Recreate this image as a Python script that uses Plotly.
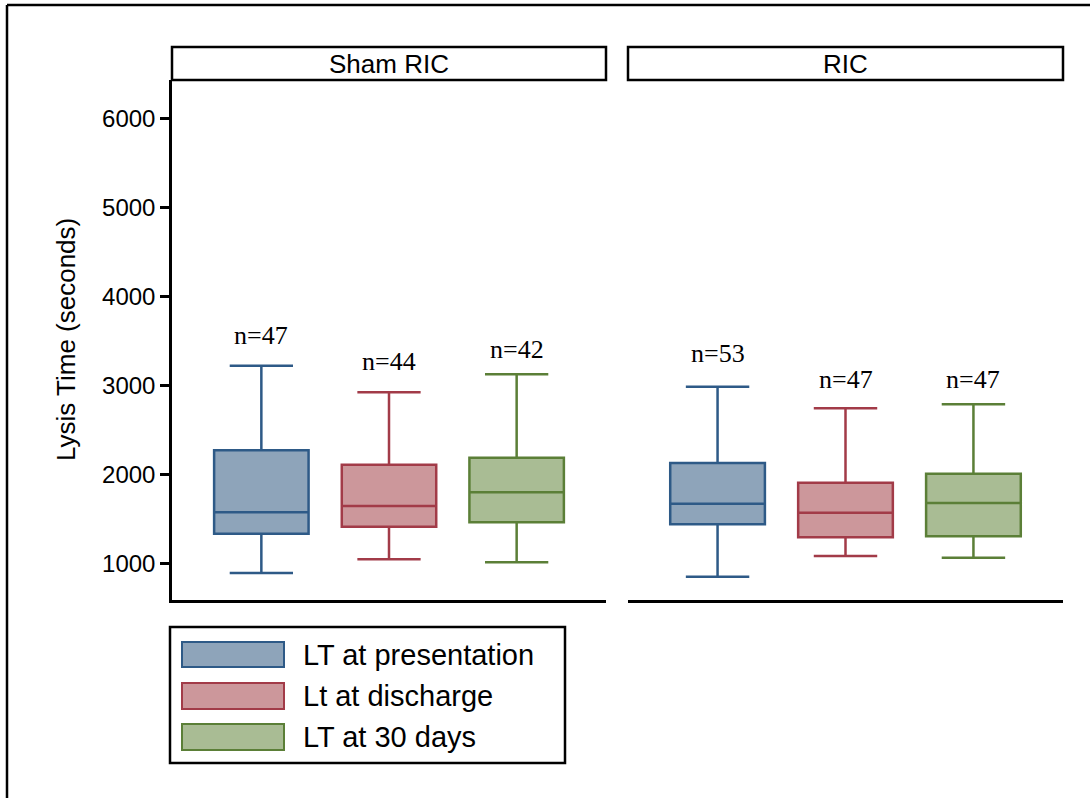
import plotly.graph_objects as go

# ---------------- data ----------------
timepoints = ["LT at presentation", "Lt at discharge", "LT at 30 days"]
panels = ["Sham RIC", "RIC"]

# per panel, per timepoint
sham_lower = [891, 1045, 1011]
sham_q1 = [1333, 1411, 1461]
sham_median = [1573, 1644, 1798]
sham_q3 = [2270, 2108, 2187]
sham_upper = [3220, 2921, 3124]
sham_n = [47, 44, 42]
sham_label_y = [3554, 3262, 3397]

ric_lower = [849, 1082, 1063]
ric_q1 = [1438, 1292, 1303]
ric_median = [1670, 1569, 1678]
ric_q3 = [2127, 1906, 2007]
ric_upper = [2984, 2742, 2787]
ric_n = [53, 47, 47]
ric_label_y = [3352, 3060, 3060]

y_ticks = [1000, 2000, 3000, 4000, 5000, 6000]

line_colors = ["#2e5a87", "#a23b48", "#5b7f37"]
fill_colors = ["#8ea4ba", "#cc979b", "#a9bc94"]

W, H = 1090, 798


def px(x):
    return x / W


def py(y):
    return 1 - y / H


fig = go.Figure()

panel_data = [
    (sham_lower, sham_q1, sham_median, sham_q3, sham_upper, sham_n, sham_label_y, "x", "y"),
    (ric_lower, ric_q1, ric_median, ric_q3, ric_upper, ric_n, ric_label_y, "x2", "y2"),
]

annotations = []
for lo, q1, med, q3, up, ns, ly, xa, ya in panel_data:
    for i, tp in enumerate(timepoints):
        fig.add_trace(go.Box(
            x=[tp], q1=[q1[i]], median=[med[i]], q3=[q3[i]],
            lowerfence=[lo[i]], upperfence=[up[i]],
            xaxis=xa, yaxis=ya, name=tp, showlegend=False,
            fillcolor=fill_colors[i],
            line=dict(color=line_colors[i], width=2.5),
            width=0.74, whiskerwidth=0.67, boxpoints=False,
            hoverinfo="skip",
        ))
        annotations.append(dict(
            x=tp, y=ly[i], xref=xa, yref=ya, text=f"n={ns[i]}",
            showarrow=False,
            font=dict(family="Liberation Serif, Times New Roman, serif", size=26, color="black"),
        ))

dom_y = [py(600), py(80)]
x_common = dict(
    type="category", categoryorder="array", categoryarray=timepoints,
    range=[-0.7, 2.7], showticklabels=False, ticks="",
    showline=True, linecolor="black", linewidth=2.5,
    showgrid=False, zeroline=False, fixedrange=True,
)
fig.update_layout(
    width=W, height=H,
    margin=dict(l=0, r=0, t=0, b=0),
    paper_bgcolor="white", plot_bgcolor="white",
    showlegend=False,
    font=dict(family="Liberation Sans, Arial, sans-serif", color="black"),
    xaxis=dict(domain=[px(172), px(606)], anchor="y", **x_common),
    xaxis2=dict(domain=[px(628), px(1063)], anchor="y2", **x_common),
    yaxis=dict(domain=dom_y, anchor="x", range=[588, 6430],
               tickvals=y_ticks, ticktext=[str(v) for v in y_ticks],
               ticks="outside", ticklen=9, tickwidth=2.5, tickcolor="black",
               tickfont=dict(size=24, family="Liberation Sans, Arial, sans-serif"),
               showline=True, linecolor="black", linewidth=2.5,
               showgrid=False, zeroline=False),
    yaxis2=dict(domain=dom_y, anchor="x2", range=[588, 6430], matches="y",
                showticklabels=False, ticks="", showline=False,
                showgrid=False, zeroline=False),
)

shapes = []
# outer frame (left + top)
shapes.append(dict(type="line", xref="paper", yref="paper", x0=px(7), x1=px(7), y0=py(5), y1=py(805),
                   line=dict(color="black", width=2.5)))
shapes.append(dict(type="line", xref="paper", yref="paper", x0=px(7), x1=px(1095), y0=py(5), y1=py(5),
                   line=dict(color="black", width=2.5)))
# strips
for (x0, x1), title in zip([(172, 606), (628, 1063)], panels):
    shapes.append(dict(type="rect", xref="paper", yref="paper", x0=px(x0), x1=px(x1), y0=py(80), y1=py(47),
                       line=dict(color="black", width=2.5), fillcolor="white"))
    annotations.append(dict(x=px((x0 + x1) / 2), y=py(63.5), xref="paper", yref="paper", text=title,
                            showarrow=False, font=dict(size=26), xanchor="center", yanchor="middle"))

# axis title
annotations.append(dict(x=px(66), y=py(340), xref="paper", yref="paper", text="Lysis Time (seconds)",
                        textangle=-90, showarrow=False, font=dict(size=26), xanchor="center", yanchor="middle"))

# legend
shapes.append(dict(type="rect", xref="paper", yref="paper", x0=px(170), x1=px(565), y0=py(763), y1=py(627),
                   line=dict(color="black", width=2.5), fillcolor="white"))
row_y = [(642, 667), (683, 709), (724, 750)]
for i, tp in enumerate(timepoints):
    y0, y1 = row_y[i]
    shapes.append(dict(type="rect", xref="paper", yref="paper", x0=px(182), x1=px(284), y0=py(y1), y1=py(y0),
                       line=dict(color=line_colors[i], width=2), fillcolor=fill_colors[i]))
    annotations.append(dict(x=px(301), y=py((y0 + y1) / 2), xref="paper", yref="paper", text=tp,
                            showarrow=False, font=dict(size=29), xanchor="left", yanchor="middle"))

fig.update_layout(shapes=shapes, annotations=annotations)

fig.write_html("out.html", config={"displayModeBar": False},
               post_script="document.body.style.margin='0';document.body.style.overflow='hidden';")
